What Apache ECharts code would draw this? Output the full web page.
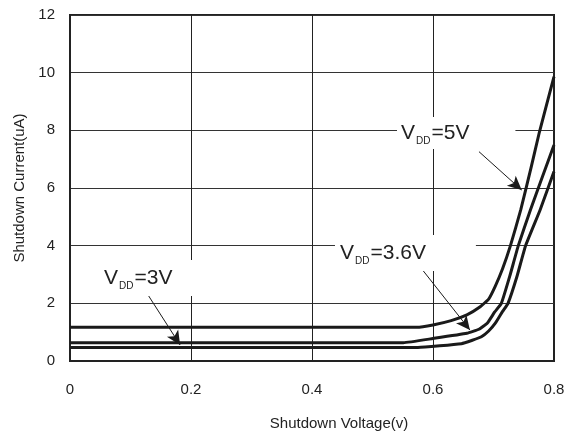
<!DOCTYPE html>
<html>
<head>
<meta charset="utf-8">
<script src="https://cdn.jsdelivr.net/npm/echarts@6/dist/echarts.min.js"></script>
<style>
  html, body { margin: 0; padding: 0; background: #fff; }
  #chart { width: 577px; height: 437px; }
</style>
</head>
<body>
<div id="chart"></div>
<script>
// Shutdown current vs. shutdown voltage for three supply voltages
const xTicks = [0, 0.2, 0.4, 0.6, 0.8];
const yTicks = [0, 2, 4, 6, 8, 10, 12];

// [shutdown voltage (V), shutdown current (uA)]
const vdd5 = [[0, 1.17], [0.573, 1.17], [0.6, 1.25], [0.63, 1.4], [0.656, 1.6], [0.678, 1.88],
  [0.692, 2.15], [0.703, 2.6], [0.715, 3.2], [0.728, 4.0], [0.745, 5.24], [0.762, 6.7], [0.776, 7.95], [0.8, 9.86]];
const vdd36 = [[0, 0.635], [0.551, 0.635], [0.6, 0.78], [0.656, 0.96], [0.676, 1.1], [0.69, 1.32],
  [0.702, 1.7], [0.713, 2.0], [0.727, 2.95], [0.741, 4.0], [0.761, 5.24], [0.781, 6.4], [0.8, 7.49]];
const vdd3 = [[0, 0.47], [0.575, 0.47], [0.647, 0.6], [0.665, 0.72], [0.68, 0.84], [0.692, 1.04],
  [0.703, 1.31], [0.715, 1.72], [0.724, 2.0], [0.739, 2.95], [0.753, 4.0], [0.777, 5.24], [0.8, 6.57]];

// Callout text values and their anchor / arrow points in data units
const calloutValues = ['5V', '3.6V', '3V'];
const calloutAnchors = [[0.5405, 7.91], [0.438, 3.75], [0.0496, 2.88]];
const arrowStarts = [[0.676, 7.26], [0.5785, 3.27], [0.129, 2.29]];
const arrowEnds = [[0.7466, 5.93], [0.661, 1.075], [0.182, 0.555]];
const calloutPadding = [[3, 46, 3, 4], [5, 50, 5, 5], [5, 22, 5, 4]];

const FONT = "'Liberation Sans', Arial, Helvetica, sans-serif";
const INK = '#1a1a1a';

function series(name, data, i) {
  return {
    name: name,
    type: 'line',
    data: data,
    symbol: 'none',
    smooth: 0.12,
    z: 3,
    lineStyle: { color: INK, width: 3, join: 'round' },
    markLine: {
      silent: true,
      animation: false,
      symbol: ['none', 'arrow'],
      symbolSize: [10, 14],
      lineStyle: { color: INK, width: 1, type: 'solid' },
      label: { show: false },
      data: [[{ coord: arrowStarts[i] }, { coord: arrowEnds[i] }]]
    },
    markPoint: {
      silent: true,
      animation: false,
      symbol: 'circle',
      symbolSize: 0,
      data: [{ coord: calloutAnchors[i] }],
      label: {
        show: true,
        position: 'right',
        distance: 0,
        backgroundColor: '#fff',
        padding: calloutPadding[i],
        formatter: '{v|V}{s|DD}{t|=' + calloutValues[i] + '}',
        rich: {
          v: { fontFamily: FONT, fontSize: 21, color: '#222', lineHeight: 26, verticalAlign: 'middle' },
          s: { fontFamily: FONT, fontSize: 10, color: '#222', lineHeight: 26, verticalAlign: 'bottom', padding: [0, 1, 0, 1] },
          t: { fontFamily: FONT, fontSize: 21, color: '#222', lineHeight: 26, verticalAlign: 'middle' }
        }
      }
    }
  };
}

const chart = echarts.init(document.getElementById('chart'), null, { renderer: 'canvas' });
chart.setOption({
  animation: false,
  backgroundColor: '#fff',
  grid: {
    left: 70, right: 23, top: 15, bottom: 76,
    show: true, borderColor: '#222', borderWidth: 2, backgroundColor: 'transparent'
  },
  xAxis: {
    type: 'value',
    min: xTicks[0], max: xTicks[xTicks.length - 1], interval: 0.2,
    name: 'Shutdown Voltage(v)',
    nameLocation: 'middle',
    nameGap: 55,
    nameTextStyle: { fontFamily: FONT, fontSize: 15, color: '#222', padding: [0, 0, 0, 54] },
    axisLine: { show: true, lineStyle: { color: '#222', width: 2 } },
    axisTick: { show: false },
    axisLabel: { fontFamily: FONT, fontSize: 15, color: '#222', margin: 21,
      formatter: v => xTicks.includes(+v.toFixed(1)) ? String(+v.toFixed(1)) : '' },
    splitLine: { show: true, lineStyle: { color: '#222', width: 1 } }
  },
  yAxis: {
    type: 'value',
    min: yTicks[0], max: yTicks[yTicks.length - 1], interval: 2,
    name: 'Shutdown Current(uA)',
    nameLocation: 'middle',
    nameGap: 42,
    nameTextStyle: { fontFamily: FONT, fontSize: 15, color: '#222' },
    axisLine: { show: true, lineStyle: { color: '#222', width: 2 } },
    axisTick: { show: false },
    axisLabel: { fontFamily: FONT, fontSize: 15, color: '#222', margin: 15 },
    splitLine: { show: true, lineStyle: { color: '#333', width: 1 } }
  },
  series: [
    series('VDD=5V', vdd5, 0),
    series('VDD=3.6V', vdd36, 1),
    series('VDD=3V', vdd3, 2)
  ]
});
</script>
</body>
</html>
